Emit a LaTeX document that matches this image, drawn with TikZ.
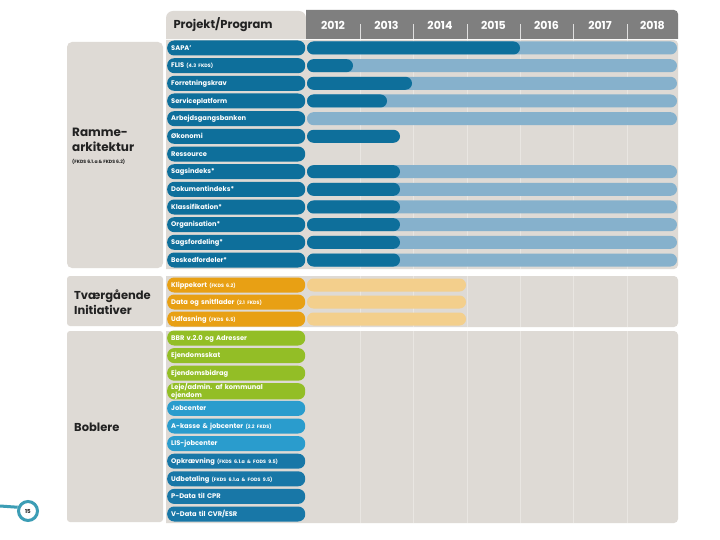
\documentclass[tikz,border=0pt]{standalone}
\usepackage{fontspec}
\setmainfont{Poppins}
\definecolor{panel}{HTML}{DEDAD5}
\definecolor{gridc}{HTML}{E9E6E2}
\definecolor{hdr}{HTML}{7F7F7F}
\definecolor{dkblue}{HTML}{0E6F9B}
\definecolor{ltblue}{HTML}{86B1CC}
\definecolor{orng}{HTML}{E8A014}
\definecolor{ltorng}{HTML}{F3CF8C}
\definecolor{grn}{HTML}{93BE26}
\definecolor{midblue}{HTML}{2A9CCD}
\definecolor{opkblue}{HTML}{1877A7}
\definecolor{pgc}{HTML}{3C9DB5}
\definecolor{txtdark}{HTML}{222222}
\newcommand\sm[1]{{\fontsize{4.8}{5}\selectfont #1}}
\newcommand\gbar[4]{\fill[#4, rounded corners=6.5pt] (#2,#1-6.5) rectangle (#3,#1+6.5);}
\begin{document}
\begin{tikzpicture}[x=1pt,y=-1pt,
  pillbase/.style={rectangle, rounded corners=7pt, minimum width=138pt, minimum height=15pt,
    text width=130pt, align=left, inner xsep=4pt, inner ysep=0pt, text=white, anchor=west,
    font=\bfseries\fontsize{6.7}{6.7}\selectfont},
  pill/.style={pillbase, text height=4.6pt, text depth=0pt},
  sect/.style={anchor=north west, align=left, text=txtdark, inner sep=0pt,
    font=\bfseries\fontsize{12}{15}\selectfont},
  year/.style={text=white, font=\bfseries\fontsize{11}{11}\selectfont}]
\useasboundingbox (0,0) rectangle (720,540);
\fill[white] (0,0) rectangle (720,540);
% header
\fill[panel] (166,39) [rounded corners=7pt]-- (166,11) -- (306,11) [sharp corners]-- (306,39) -- cycle;
\fill[hdr] (306,39) [sharp corners]-- (306,10) [rounded corners=4pt]-- (678,10) [sharp corners]-- (678,39) -- cycle;
\foreach \x in {360,413,467,520,573,627} \draw[white!75!hdr, line width=0.6pt] (\x,24) -- (\x,39);
\node[anchor=west, text=txtdark, font=\bfseries\fontsize{11.5}{11.5}\selectfont] (hproj) at (170,25) {Projekt/Program};
\foreach \yr/\cx in {2012/333,2013/386.5,2014/440,2015/493.5,2016/546.5,2017/600,2018/652.5}
  \node[year] (y\yr) at (\cx,25) {\yr};
% chart section backgrounds
\foreach \ya/\yb in {40/269,276/327,331/523}{
  \fill[panel] (166,\ya) [sharp corners]-- (166,\yb) [rounded corners=4pt]-- (678,\yb) -- (678,\ya) [sharp corners]-- cycle;
  \foreach \x in {360,413,467,520,573,627} \draw[gridc, line width=0.8pt] (\x,\ya) -- (\x,\yb);
}
% left panels
\fill[panel, rounded corners=5pt] (67,42) rectangle (163,268);
\fill[panel, rounded corners=3pt] (67,276) rectangle (163,326);
\fill[panel, rounded corners=3pt] (67,331) rectangle (163,522);
\node[sect] (sramme) at (72,128) {Ramme-\\arkitektur};
\node[anchor=north west, inner sep=0pt, text=txtdark, font=\bfseries\fontsize{4.6}{5}\selectfont] (sfkds) at (72,159) {(FKDS 6.1.a \& FKDS 6.2)};
\node[sect, font=\bfseries\fontsize{11.5}{15}\selectfont] (stvaer) at (74,290) {Tværgående\\Initiativer};
\node[sect, anchor=west, font=\bfseries\fontsize{11.5}{15}\selectfont] (sbob) at (74,427) {Boblere};
% section 1 bars
\gbar{48}{307}{677}{ltblue}\gbar{48}{307}{520}{dkblue}
\gbar{65.7}{307}{677}{ltblue}\gbar{65.7}{307}{353}{dkblue}
\gbar{83.3}{307}{677}{ltblue}\gbar{83.3}{307}{412}{dkblue}
\gbar{101}{307}{677}{ltblue}\gbar{101}{307}{387}{dkblue}
\gbar{118.7}{307}{677}{ltblue}
\gbar{136.3}{307}{400}{dkblue}
\foreach \yy in {171.7,189.3,207,224.7,242.3,260}{\gbar{\yy}{307}{677}{ltblue}\gbar{\yy}{307}{400}{dkblue}}
% section 2 bars
\foreach \yy in {285,302,319}{\gbar{\yy}{307}{466}{ltorng}}
% section 1 pills
\foreach \lab [count=\i] in {SAPA',FLIS \sm{(4.3 FKDS)},Forretningskrav,Serviceplatform,Arbejdsgangsbanken,Økonomi,Ressource,Sagsindeks*,Dokumentindeks*,Klassifikation*,Organisation*,Sagsfordeling*,Beskedfordeler*}{
  \pgfmathsetmacro\yy{48+(\i-1)*17.667}
  \node[pill, fill=dkblue] (a\i) at (167,\yy) {\lab};
}
% section 2 pills
\node[pill, fill=orng] (b1) at (167,285) {Klippekort \sm{(FKDS 6.2)}};
\node[pill, fill=orng] (b2) at (167,302) {Data og snitflader \sm{(2.1 FKDS)}};
\node[pill, fill=orng] (b3) at (167,319) {Udfasning \sm{(FKDS 6.5)}};
% section 3 pills
\node[pill, fill=grn] (c1) at (167,338) {BBR v.2.0 og Adresser};
\node[pill, fill=grn] (c2) at (167,355.6) {Ejendomsskat};
\node[pill, fill=grn] (c3) at (167,373.2) {Ejendomsbidrag};
\node[pillbase, fill=grn, font=\bfseries\fontsize{6.7}{6.2}\selectfont] (c4) at (167,391.3) {Leje/admin. af kommunal\\ejendom};
\node[pill, fill=midblue] (c5) at (167,408.4) {Jobcenter};
\node[pill, fill=midblue] (c6) at (167,426) {A-kasse \& jobcenter \sm{(2.2 FKDS)}};
\node[pill, fill=midblue] (c7) at (167,443.6) {LIS-jobcenter};
\node[pill, fill=opkblue] (c8) at (167,461.2) {Opkrævning \sm{(FKDS 6.1.a \& FODS 9.5)}};
\node[pill, fill=opkblue] (c9) at (167,478.8) {Udbetaling \sm{(FKDS 6.1.a \& FODS 9.5)}};
\node[pill, fill=opkblue] (c10) at (167,496.4) {P-Data til CPR};
\node[pill, fill=opkblue] (c11) at (167,514) {V-Data til CVR/ESR};
% page number
\node[circle, draw=pgc, line width=3pt, fill=white, minimum size=19pt, inner sep=0pt,
  text=txtdark, font=\bfseries\fontsize{5.5}{5.5}\selectfont] (pn) at (28,511) {15};
\coordinate (pstart) at (0,506);
\draw[pgc, line width=3pt] (pstart) -- (pn.160);
\end{tikzpicture}
\end{document}
